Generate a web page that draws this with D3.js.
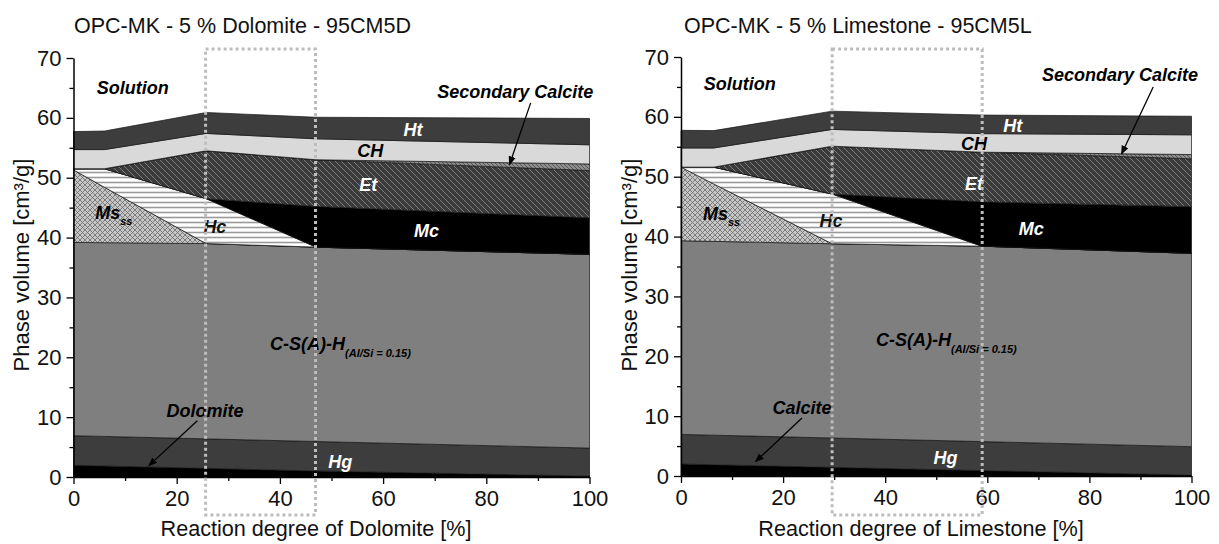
<!DOCTYPE html>
<html>
<head>
<meta charset="utf-8">
<script src="https://cdn.jsdelivr.net/npm/d3@7"></script>
<style>
  body { margin: 0; background: #fff; }
  text { font-family: "Liberation Sans", Arial, sans-serif; }
  .lbl { font-weight: bold; font-style: italic; font-size: 18px; }
</style>
</head>
<body>
<div id="chart"></div>
<script>
// stacking order, bottom to top
var phases = ["Carb", "Hg", "CSH", "Ms", "Hc", "Mc", "Et", "SecCc", "CH", "Ht"];

var xMajor = [0, 20, 40, 60, 80, 100];
var xMinor = [10, 30, 50, 70, 90];
var yMajor = [0, 10, 20, 30, 40, 50, 60, 70];
var yMinor = [5, 15, 25, 35, 45, 55, 65];

// 95CM5D : phase volumes [cm3/g] at each reaction degree
var dolDegree = [0, 6, 25.7, 47, 100];
var dolCarb   = [1.95, 1.85, 1.45, 1.0, 0.15];
var dolHg     = [4.95, 4.93, 4.92, 4.93, 4.68];
var dolCSH    = [32.3, 32.37, 32.63, 32.47, 32.37];
var dolMs     = [12.1, 9.25, 0, 0, 0];
var dolHc     = [0.2, 3.1, 7.5, 0, 0];
var dolMc     = [0, 0, 0, 6.8, 6.1];
var dolEt     = [0, 0, 8.0, 7.8, 7.9];
var dolSecCc  = [0, 0, 0, 0, 1.1];
var dolCH     = [3.2, 3.2, 2.9, 3.5, 3.2];
var dolHt     = [3.0, 3.1, 3.5, 3.6, 4.4];

// 95CM5L
var limDegree = [0, 6.4, 29.6, 58.9, 100];
var limCarb   = [2.0, 1.88, 1.45, 0.91, 0.15];
var limHg     = [4.95, 4.94, 4.9, 4.84, 4.75];
var limCSH    = [32.35, 32.38, 32.45, 32.65, 32.3];
var limMs     = [12.3, 9.6, 0, 0, 0];
var limHc     = [0, 2.8, 8.3, 0, 0];
var limMc     = [0, 0, 0, 7.4, 7.8];
var limEt     = [0, 0, 8.0, 8.3, 8.0];
var limSecCc  = [0, 0, 0, 0, 0.7];
var limCH     = [3.2, 3.2, 2.8, 3.1, 3.3];
var limHt     = [2.95, 2.9, 3.05, 3.1, 3.1];

function buildRows(degree, cols) {
  return degree.map(function(x, i) {
    var row = { x: x };
    phases.forEach(function(p) { row[p] = cols[p][i]; });
    return row;
  });
}

var svg = d3.select("#chart").append("svg")
  .attr("width", 1219)
  .attr("height", 544);

var defs = svg.append("defs");

// Et: dark with light back-diagonal lines
var pEt = defs.append("pattern").attr("id", "pEt")
  .attr("patternUnits", "userSpaceOnUse").attr("width", 6).attr("height", 6);
pEt.append("rect").attr("width", 6).attr("height", 6).attr("fill", "#3b3b3b");
pEt.append("path").attr("d", "M-1,-1L7,7M-1,5L1,7M5,-1L7,1")
  .attr("stroke", "#7c7c7c").attr("stroke-width", 1);

// Ms: cross hatch
var pMs = defs.append("pattern").attr("id", "pMs")
  .attr("patternUnits", "userSpaceOnUse").attr("width", 5).attr("height", 5);
pMs.append("rect").attr("width", 5).attr("height", 5).attr("fill", "#c6c6c6");
pMs.append("path").attr("d", "M0,0L5,5M5,0L0,5")
  .attr("stroke", "#6a6a6a").attr("stroke-width", 0.8);

// Hc: horizontal lines
var pHc = defs.append("pattern").attr("id", "pHc")
  .attr("patternUnits", "userSpaceOnUse").attr("width", 5).attr("height", 5);
pHc.append("rect").attr("width", 5).attr("height", 5).attr("fill", "#ffffff");
pHc.append("line").attr("x1", 0).attr("x2", 5).attr("y1", 2.5).attr("y2", 2.5)
  .attr("stroke", "#9a9a9a").attr("stroke-width", 1.6);

// secondary calcite
var pSec = defs.append("pattern").attr("id", "pSec")
  .attr("patternUnits", "userSpaceOnUse").attr("width", 4).attr("height", 4);
pSec.append("rect").attr("width", 4).attr("height", 4).attr("fill", "#8e8e8e");
pSec.append("path").attr("d", "M-1,-1L5,5").attr("stroke", "#4a4a4a").attr("stroke-width", 0.8);

defs.append("marker").attr("id", "arrow")
  .attr("viewBox", "0 0 10 10").attr("refX", 9).attr("refY", 5)
  .attr("markerWidth", 9).attr("markerHeight", 9).attr("markerUnits", "userSpaceOnUse")
  .attr("orient", "auto")
  .append("path").attr("d", "M0,1L10,5L0,9z").attr("fill", "#000");

var fills = {
  Carb: "#000000", Hg: "#3d3d3d", CSH: "#7f7f7f", Ms: "url(#pMs)", Hc: "url(#pHc)",
  Mc: "#000000", Et: "url(#pEt)", SecCc: "url(#pSec)", CH: "#d9d9d9", Ht: "#3d3d3d"
};

function drawPanel(cfg) {
  var g = svg.append("g");

  var x = d3.scaleLinear().domain([0, 100]).range(cfg.xRange);
  var y = d3.scaleLinear().domain([0, 70]).range(cfg.yRange);

  var series = d3.stack().keys(phases)(cfg.rows);

  var area = d3.area()
    .x(function(d) { return x(d.data.x); })
    .y0(function(d) { return y(d[0]); })
    .y1(function(d) { return y(d[1]); });

  g.selectAll(".layer")
    .data(series)
    .enter().append("path")
    .attr("class", "layer")
    .attr("d", area)
    .attr("fill", function(d) { return fills[d.key]; })
    .attr("stroke", "#151515")
    .attr("stroke-width", 0.7);

  // axes
  var xAxis = g.append("g")
    .attr("transform", "translate(0," + cfg.yRange[0] + ")")
    .call(d3.axisBottom(x).tickValues(xMajor).tickSize(7).tickSizeOuter(0).tickPadding(6));
  g.append("g")
    .attr("transform", "translate(0," + cfg.yRange[0] + ")")
    .call(d3.axisBottom(x).tickValues(xMinor).tickSize(4).tickFormat(""))
    .select(".domain").remove();

  var yAxis = g.append("g")
    .attr("transform", "translate(" + cfg.xRange[0] + ",0)")
    .call(d3.axisLeft(y).tickValues(yMajor).tickSize(7).tickSizeOuter(0).tickPadding(5));
  g.append("g")
    .attr("transform", "translate(" + cfg.xRange[0] + ",0)")
    .call(d3.axisLeft(y).tickValues(yMinor).tickSize(4).tickFormat(""))
    .select(".domain").remove();

  g.selectAll(".domain").attr("stroke", "#000").attr("stroke-width", 1.5);
  g.selectAll(".tick line").attr("stroke", "#000").attr("stroke-width", 1.3);
  g.selectAll(".tick text")
    .attr("font-family", "Liberation Sans, Arial, sans-serif")
    .attr("font-size", 22)
    .attr("fill", "#111");

  // titles
  g.append("text")
    .attr("x", cfg.titleX).attr("y", 33)
    .attr("font-size", 21.5).attr("fill", "#111")
    .text(cfg.title);

  g.append("text")
    .attr("transform", "translate(" + cfg.yTitleX + ",265) rotate(-90)")
    .attr("text-anchor", "middle")
    .attr("font-size", 22).attr("fill", "#111")
    .text("Phase volume [cm³/g]");

  g.append("text")
    .attr("x", cfg.xTitleX).attr("y", 536)
    .attr("text-anchor", "middle")
    .attr("font-size", 21.6).attr("fill", "#111")
    .text(cfg.xTitle);

  // phase labels
  cfg.labels.forEach(function(l) {
    g.append("text")
      .attr("class", "lbl")
      .attr("x", x(l.x)).attr("y", y(l.y))
      .attr("dy", "0.35em")
      .attr("text-anchor", l.anchor || "middle")
      .attr("fill", l.color)
      .text(l.text);
  });

  var ms = g.append("text").attr("class", "lbl")
    .attr("x", x(cfg.msAt[0])).attr("y", y(cfg.msAt[1])).attr("dy", "0.35em")
    .attr("fill", "#000");
  ms.append("tspan").text("Ms");
  ms.append("tspan").attr("font-size", 11).attr("dy", 6).text("ss");

  var csh = g.append("text").attr("class", "lbl")
    .attr("x", x(cfg.cshAt[0])).attr("y", y(cfg.cshAt[1])).attr("dy", "0.35em")
    .attr("fill", "#000");
  csh.append("tspan").text("C-S(A)-H");
  csh.append("tspan").attr("font-size", 11).attr("dy", 7).text("(Al/Si = 0.15)");

  cfg.arrows.forEach(function(a) {
    g.append("line")
      .attr("x1", x(a[0])).attr("y1", y(a[1]))
      .attr("x2", x(a[2])).attr("y2", y(a[3]))
      .attr("stroke", "#000").attr("stroke-width", 1.3)
      .attr("marker-end", "url(#arrow)");
  });

  // dotted region box
  g.append("rect")
    .attr("x", x(cfg.box[0]))
    .attr("y", 49)
    .attr("width", x(cfg.box[1]) - x(cfg.box[0]))
    .attr("height", 515 - 49)
    .attr("fill", "none")
    .attr("stroke", "#bdbdbd")
    .attr("stroke-width", 3)
    .attr("stroke-dasharray", "3,3");
}

drawPanel({
  rows: buildRows(dolDegree, {
    Carb: dolCarb, Hg: dolHg, CSH: dolCSH, Ms: dolMs, Hc: dolHc, Mc: dolMc,
    Et: dolEt, SecCc: dolSecCc, CH: dolCH, Ht: dolHt
  }),
  xRange: [73.5, 589.5],
  yRange: [477, 58],
  title: "OPC-MK - 5 % Dolomite - 95CM5D",
  titleX: 74,
  yTitleX: 29,
  xTitle: "Reaction degree of Dolomite [%]",
  xTitleX: 316,
  box: [25.6, 46.9],
  labels: [
    { text: "Solution", x: 11.5, y: 65.0, color: "#000" },
    { text: "Secondary Calcite", x: 85.6, y: 64.3, color: "#000" },
    { text: "Ht", x: 65.8, y: 58.0, color: "#fff" },
    { text: "CH", x: 57.5, y: 54.5, color: "#000" },
    { text: "Et", x: 57.1, y: 48.8, color: "#fff" },
    { text: "Mc", x: 68.4, y: 41.2, color: "#fff" },
    { text: "Hc", x: 27.4, y: 41.8, color: "#111" },
    { text: "Dolomite", x: 25.5, y: 11.0, color: "#000" },
    { text: "Hg", x: 51.7, y: 2.6, color: "#fff" }
  ],
  msAt: [4.2, 44.1],
  cshAt: [38.1, 22.2],
  arrows: [[88.6, 62.5, 84.5, 52.2], [24.0, 9.4, 14.6, 1.9]]
});

drawPanel({
  rows: buildRows(limDegree, {
    Carb: limCarb, Hg: limHg, CSH: limCSH, Ms: limMs, Hc: limHc, Mc: limMc,
    Et: limEt, SecCc: limSecCc, CH: limCH, Ht: limHt
  }),
  xRange: [681, 1191.5],
  yRange: [476, 57],
  title: "OPC-MK - 5 % Limestone - 95CM5L",
  titleX: 684,
  yTitleX: 637,
  xTitle: "Reaction degree of Limestone [%]",
  xTitleX: 921,
  box: [29.6, 59.0],
  labels: [
    { text: "Solution", x: 11.5, y: 65.6, color: "#000" },
    { text: "Secondary Calcite", x: 86.0, y: 67.0, color: "#000" },
    { text: "Ht", x: 65.0, y: 58.6, color: "#fff" },
    { text: "CH", x: 57.4, y: 55.5, color: "#000" },
    { text: "Et", x: 57.4, y: 48.8, color: "#fff" },
    { text: "Mc", x: 68.6, y: 41.3, color: "#fff" },
    { text: "Hc", x: 29.4, y: 42.6, color: "#111" },
    { text: "Calcite", x: 23.7, y: 11.4, color: "#000" },
    { text: "Hg", x: 51.8, y: 3.1, color: "#fff" }
  ],
  msAt: [4.3, 43.9],
  cshAt: [38.2, 22.7],
  arrows: [[92.5, 65.0, 86.3, 53.8], [23.7, 9.7, 14.6, 2.4]]
});
</script>
</body>
</html>
